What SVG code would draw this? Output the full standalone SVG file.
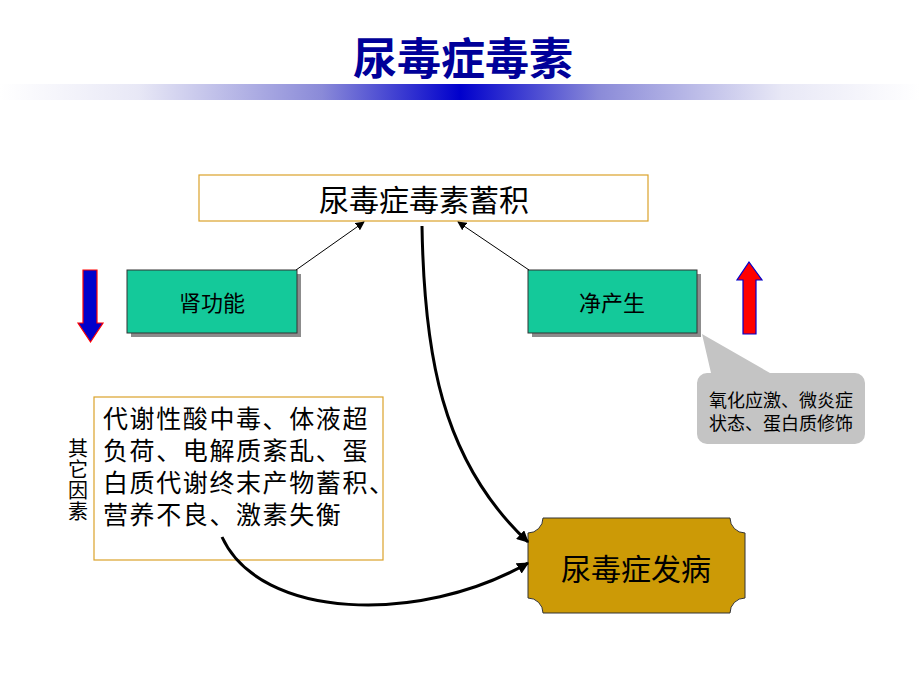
<svg xmlns="http://www.w3.org/2000/svg" width="920" height="690" viewBox="0 0 920 690">
<defs>
<linearGradient id="bar" x1="0" y1="0" x2="1" y2="0">
<stop offset="0" stop-color="#ffffff"/>
<stop offset="0.15" stop-color="#e8e8f6"/>
<stop offset="0.35" stop-color="#8a8ad8"/>
<stop offset="0.5" stop-color="#0000cc"/>
<stop offset="0.65" stop-color="#8a8ad8"/>
<stop offset="0.85" stop-color="#e8e8f6"/>
<stop offset="1" stop-color="#ffffff"/>
</linearGradient>
<marker id="thin" viewBox="0 0 10 10" refX="9" refY="5" markerWidth="9" markerHeight="9" markerUnits="userSpaceOnUse" orient="auto">
<path d="M0,0 L10,5 L0,10 Z" fill="#000"/>
</marker>
<marker id="thick" viewBox="0 0 10 10" refX="9" refY="5" markerWidth="12" markerHeight="12" markerUnits="userSpaceOnUse" orient="auto">
<path d="M0,0 L10,5 L0,10 Z" fill="#000"/>
</marker>
</defs>
<style>
.cjk{font-family:"Noto Sans CJK SC","Noto Sans",sans-serif;fill:#000}
.green{fill:#14c99a;stroke:#333;stroke-width:1}
.shadow{fill:#8c8c8c}
.gold{fill:#fff;stroke:#dba22a;stroke-width:1.2}
.thin{fill:none;stroke:#000;stroke-width:1}
.thick{fill:none;stroke:#000;stroke-width:3}
</style>
<rect x="0" y="0" width="920" height="690" fill="#fff"/>
<g id="title">
<text x="463" y="75" text-anchor="middle" class="cjk" style="fill:#000099;font-size:44px;font-weight:bold">尿毒症毒素</text>
<rect x="0" y="84" width="920" height="16" fill="url(#bar)"/>
</g>
<g id="accumulation">
<rect x="199" y="175" width="449" height="46" class="gold"/>
<text x="424" y="211" text-anchor="middle" class="cjk" style="font-size:30px">尿毒症毒素蓄积</text>
</g>
<g id="kidney">
<rect x="131" y="274" width="170" height="63" class="shadow"/>
<rect x="127" y="270" width="170" height="63" class="green"/>
<text x="212" y="311" text-anchor="middle" class="cjk" style="font-size:22px">肾功能</text>
</g>
<g id="production">
<rect x="532" y="274" width="169" height="63" class="shadow"/>
<rect x="528" y="270" width="169" height="63" class="green"/>
<text x="612" y="311" text-anchor="middle" class="cjk" style="font-size:22px">净产生</text>
</g>
<g id="down-arrow">
<polygon points="83,270 97,270 97,323 103,323 90.5,342 78,323 83,323" fill="#0000cc" stroke="#ff0000" stroke-width="1.2"/>
</g>
<g id="up-arrow">
<polygon points="749,262 762,280 756,280 756,334 743,334 743,280 737,280" fill="#ff0000" stroke="#0000cc" stroke-width="1.2"/>
</g>
<g id="callout">
<path d="M711,373 L702,334 L770,373 H855 A10,10 0 0 1 865,383 V434 A10,10 0 0 1 855,444 H707 A10,10 0 0 1 697,434 V383 A10,10 0 0 1 707,373 Z" fill="#c4c4c4"/>
<text x="781" y="407" text-anchor="middle" class="cjk" style="font-size:18px">氧化应激、微炎症</text>
<text x="781" y="430" text-anchor="middle" class="cjk" style="font-size:18px">状态、蛋白质修饰</text>
</g>
<g id="other-factors">
<rect x="94" y="397" width="289" height="163" class="gold"/>
<text class="cjk" style="font-size:25px;letter-spacing:1.6px">
<tspan x="103" y="428">代谢性酸中毒、体液超</tspan>
<tspan x="103" y="460">负荷、电解质紊乱、蛋</tspan>
<tspan x="103" y="492">白质代谢终末产物蓄积、</tspan>
<tspan x="103" y="524">营养不良、激素失衡</tspan>
</text>
<text x="78" y="438" writing-mode="vertical-rl" class="cjk" style="font-size:20px;letter-spacing:1px">其它因素</text>
</g>
<g id="onset">
<path d="M543,518 H730 A15,15 0 0 0 745,533 V598 A15,15 0 0 0 730,613 H543 A15,15 0 0 0 528,598 V533 A15,15 0 0 0 543,518 Z" fill="#cc9a06" stroke="#333" stroke-width="1"/>
<text x="636" y="580" text-anchor="middle" class="cjk" style="font-size:30px">尿毒症发病</text>
</g>
<g id="connectors">
<line x1="296" y1="270" x2="364" y2="222" class="thin" marker-end="url(#thin)"/>
<line x1="529" y1="270" x2="458" y2="222" class="thin" marker-end="url(#thin)"/>
<path d="M422,226 C424,350 440,460 528,542" class="thick" marker-end="url(#thick)"/>
<path d="M222,537 C260,620 420,625 528,563" class="thick" marker-end="url(#thick)"/>
</g>
</svg>
